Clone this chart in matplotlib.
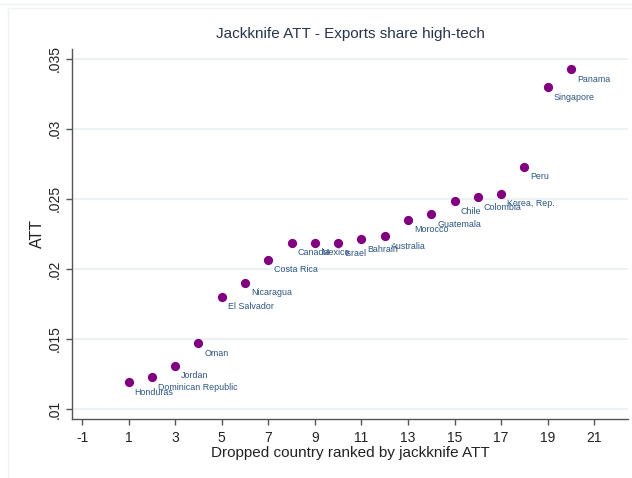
import matplotlib
matplotlib.use("Agg")
import matplotlib.pyplot as plt
from matplotlib.lines import Line2D

plt.rcParams['font.family'] = ['Liberation Sans', 'DejaVu Sans']

# Jackknife estimates: rank of dropped country and resulting ATT
rank = list(range(1, 21))
countries = ["Honduras", "Dominican Republic", "Jordan", "Oman", "El Salvador",
             "Nicaragua", "Costa Rica", "Canada", "Mexico", "Israel", "Bahrain",
             "Australia", "Morocco", "Guatemala", "Chile", "Colombia",
             "Korea, Rep.", "Peru", "Singapore", "Panama"]
att = [0.01193, 0.01226, 0.01309, 0.01469, 0.0180, 0.01902, 0.02067, 0.02186,
       0.02186, 0.02183, 0.02212, 0.02233, 0.02350, 0.02391, 0.02484, 0.02512,
       0.02536, 0.02731, 0.03298, 0.03426]

xticks = list(range(-1, 22, 2))
yticks = [0.01, 0.015, 0.02, 0.025, 0.03, 0.035]
ytick_labels = [".01", ".015", ".02", ".025", ".03", ".035"]

W, H = 632, 478
fig = plt.figure(figsize=(W / 100, H / 100), dpi=100)

# faint outer frame of the graph region
frame_col = "#edf2f4"
fig.add_artist(Line2D([0, 1], [1 - 4 / H, 1 - 4 / H], transform=fig.transFigure,
                      color=frame_col, lw=1))
fig.add_artist(Line2D([8 / W, 8 / W], [0, 1 - 8 / H], transform=fig.transFigure,
                      color=frame_col, lw=1))
fig.add_artist(Line2D([8 / W, 1], [1 - 8 / H, 1 - 8 / H], transform=fig.transFigure,
                      color=frame_col, lw=1))

left, right, top, bottom = 72, 628, 49, 419
ax = fig.add_axes([left / W, (H - bottom) / H, (right - left) / W, (bottom - top) / H])

ax.set_xlim(-1.43, 22.45)
ax.set_ylim(0.00929, 0.0357)

ax.set_yticks(yticks)
ax.set_yticklabels(ytick_labels, rotation=90, va="center")
ax.set_xticks(xticks)
ax.set_xticklabels([str(t) for t in xticks])

for s in ["top", "right"]:
    ax.spines[s].set_visible(False)
for s in ["left", "bottom"]:
    ax.spines[s].set_color("#555555")
    ax.spines[s].set_linewidth(1.0)

ax.tick_params(axis="both", direction="out", length=4.5, width=1.0, color="#555555",
               labelsize=10, labelcolor="#222222")
ax.tick_params(axis="y", pad=3)
ax.tick_params(axis="x", pad=4)

ax.grid(axis="y", color="#e8f1f3", linewidth=1.3)
ax.set_axisbelow(True)

ax.scatter(rank, att, s=44, color="#800080", zorder=3, linewidths=0)

for x, y, name in zip(rank, att, countries):
    ax.annotate(name, (x, y), xytext=(4.3, -7.2), textcoords="offset points",
                ha="left", va="center", fontsize=6.4, color="#2b5481", zorder=4)

ax.set_title("Jackknife ATT - Exports share high-tech", fontsize=11,
             color="#28334f", pad=8)
ax.set_xlabel("Dropped country ranked by jackknife ATT", fontsize=11,
              color="#222222", labelpad=1)
ax.set_ylabel("ATT", fontsize=11.5, color="#222222", labelpad=2)

fig.savefig("out.png", dpi=100, facecolor="white")
